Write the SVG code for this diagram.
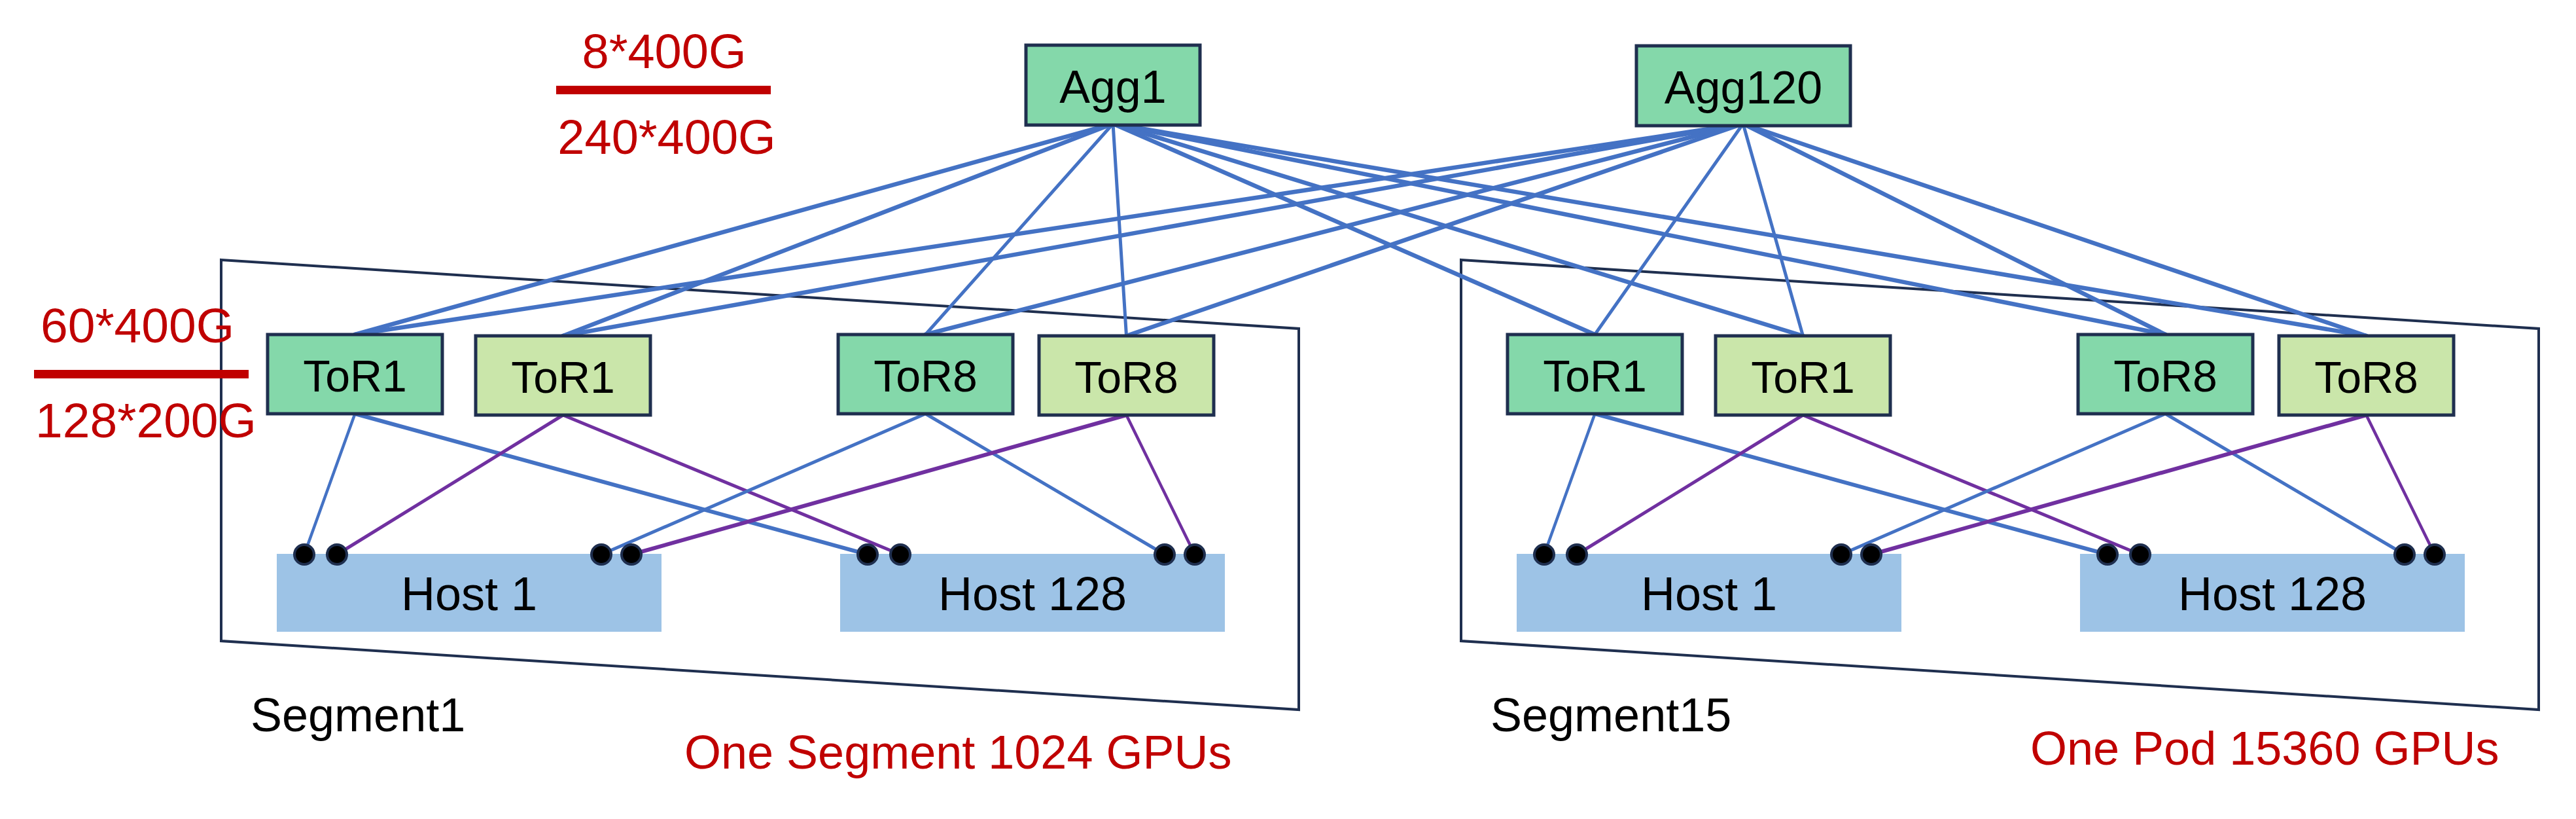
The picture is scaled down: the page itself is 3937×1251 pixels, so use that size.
<svg xmlns="http://www.w3.org/2000/svg" width="3937" height="1251" viewBox="0 0 3937 1251">
<style>
.seg{fill:none;stroke:#1f2f4f;stroke-width:4;stroke-linejoin:miter}
.agg,.tord{fill:#84d8aa;stroke:#1f2f4f;stroke-width:5}
.torl{fill:#cae6aa;stroke:#1f2f4f;stroke-width:5}
.host{fill:#9dc3e6}
.dot{fill:#000;stroke:#1f2f4f;stroke-width:4}
.b{stroke:#4472c4;fill:none;stroke-linecap:round}
.p{stroke:#7030a0;fill:none;stroke-linecap:round}
.t{font-family:"Liberation Sans",Arial,sans-serif;fill:#000;text-anchor:middle}
.ts{font-family:"Liberation Sans",Arial,sans-serif;fill:#000}
.r{font-family:"Liberation Sans",Arial,sans-serif;fill:#c00000}
.rm{font-family:"Liberation Sans",Arial,sans-serif;fill:#c00000;text-anchor:middle}
.red{fill:#c00000}
</style>
<g id="segment1-frame"><polygon class="seg" points="338,397 1985,502 1985,1084 338,979"/></g>
<g id="segment15-frame"><polygon class="seg" points="2233,397 3880,502 3880,1084 2233,979"/></g>

<g id="connectors">
<g class="b" stroke-width="6.5">
<line x1="1701" y1="189" x2="542.5" y2="511"/>
<line x1="1701" y1="189" x2="860.5" y2="513"/>
<line x1="1701" y1="189" x2="1414.5" y2="511" stroke-width="5"/>
<line x1="1701" y1="189" x2="1721.5" y2="513" stroke-width="5"/>
<line x1="1701" y1="189" x2="2437.5" y2="511"/>
<line x1="1701" y1="189" x2="2755.5" y2="513"/>
<line x1="1701" y1="189" x2="3309.5" y2="511"/>
<line x1="1701" y1="189" x2="3616.5" y2="513"/>
<line x1="2664" y1="189" x2="542.5" y2="511"/>
<line x1="2664" y1="189" x2="860.5" y2="513"/>
<line x1="2664" y1="189" x2="1414.5" y2="511"/>
<line x1="2664" y1="189" x2="1721.5" y2="513"/>
<line x1="2664" y1="189" x2="2437.5" y2="511" stroke-width="5"/>
<line x1="2664" y1="189" x2="2755.5" y2="513" stroke-width="5"/>
<line x1="2664" y1="189" x2="3309.5" y2="511"/>
<line x1="2664" y1="189" x2="3616.5" y2="513"/>
</g>
<line class="b" stroke-width="4.5" x1="542.5" y1="632" x2="465" y2="847"/>
<line class="b" stroke-width="6" x1="542.5" y1="632" x2="1326" y2="847"/>
<line class="p" stroke-width="5" x1="860.5" y1="634" x2="515" y2="847"/>
<line class="p" stroke-width="5" x1="860.5" y1="634" x2="1376" y2="847"/>
<line class="b" stroke-width="5" x1="1414.5" y1="632" x2="919" y2="847"/>
<line class="b" stroke-width="5" x1="1414.5" y1="632" x2="1780" y2="847"/>
<line class="p" stroke-width="6" x1="1721.5" y1="634" x2="965" y2="847"/>
<line class="p" stroke-width="4.5" x1="1721.5" y1="634" x2="1826" y2="847"/>
<line class="b" stroke-width="4.5" x1="2437.5" y1="632" x2="2360" y2="847"/>
<line class="b" stroke-width="6" x1="2437.5" y1="632" x2="3221" y2="847"/>
<line class="p" stroke-width="5" x1="2755.5" y1="634" x2="2410" y2="847"/>
<line class="p" stroke-width="5" x1="2755.5" y1="634" x2="3271" y2="847"/>
<line class="b" stroke-width="5" x1="3309.5" y1="632" x2="2814" y2="847"/>
<line class="b" stroke-width="5" x1="3309.5" y1="632" x2="3675" y2="847"/>
<line class="p" stroke-width="6" x1="3616.5" y1="634" x2="2860" y2="847"/>
<line class="p" stroke-width="4.5" x1="3616.5" y1="634" x2="3721" y2="847"/>
</g>

<g id="agg1"><rect class="agg" x="1568" y="69" width="266" height="122"/><text class="t" x="1701" y="157" font-size="70">Agg1</text></g>
<g id="agg120"><rect class="agg" x="2501" y="70" width="327" height="122"/><text class="t" x="2664.5" y="158" font-size="70">Agg120</text></g>

<g id="s1-tor1a"><rect class="tord" x="409" y="511" width="267" height="121"/><text class="t" x="542.5" y="598" font-size="68">ToR1</text></g>
<g id="s1-tor1b"><rect class="torl" x="727" y="513" width="267" height="121"/><text class="t" x="860.5" y="600" font-size="68">ToR1</text></g>
<g id="s1-tor8a"><rect class="tord" x="1281" y="511" width="267" height="121"/><text class="t" x="1414.5" y="598" font-size="68">ToR8</text></g>
<g id="s1-tor8b"><rect class="torl" x="1588" y="513" width="267" height="121"/><text class="t" x="1721.5" y="600" font-size="68">ToR8</text></g>
<g id="s15-tor1a"><rect class="tord" x="2304" y="511" width="267" height="121"/><text class="t" x="2437.5" y="598" font-size="68">ToR1</text></g>
<g id="s15-tor1b"><rect class="torl" x="2622" y="513" width="267" height="121"/><text class="t" x="2755.5" y="600" font-size="68">ToR1</text></g>
<g id="s15-tor8a"><rect class="tord" x="3176" y="511" width="267" height="121"/><text class="t" x="3309.5" y="598" font-size="68">ToR8</text></g>
<g id="s15-tor8b"><rect class="torl" x="3483" y="513" width="267" height="121"/><text class="t" x="3616.5" y="600" font-size="68">ToR8</text></g>

<g id="s1-host1"><rect class="host" x="423" y="846" width="588" height="119"/><text class="t" x="717" y="932" font-size="72">Host 1</text>
<circle class="dot" cx="465" cy="847" r="15"/><circle class="dot" cx="515" cy="847" r="15"/><circle class="dot" cx="919" cy="847" r="15"/><circle class="dot" cx="965" cy="847" r="15"/></g>
<g id="s1-host128"><rect class="host" x="1284" y="846" width="588" height="119"/><text class="t" x="1578" y="932" font-size="72">Host 128</text>
<circle class="dot" cx="1326" cy="847" r="15"/><circle class="dot" cx="1376" cy="847" r="15"/><circle class="dot" cx="1780" cy="847" r="15"/><circle class="dot" cx="1826" cy="847" r="15"/></g>
<g id="s15-host1"><rect class="host" x="2318" y="846" width="588" height="119"/><text class="t" x="2612" y="932" font-size="72">Host 1</text>
<circle class="dot" cx="2360" cy="847" r="15"/><circle class="dot" cx="2410" cy="847" r="15"/><circle class="dot" cx="2814" cy="847" r="15"/><circle class="dot" cx="2860" cy="847" r="15"/></g>
<g id="s15-host128"><rect class="host" x="3179" y="846" width="588" height="119"/><text class="t" x="3473" y="932" font-size="72">Host 128</text>
<circle class="dot" cx="3221" cy="847" r="15"/><circle class="dot" cx="3271" cy="847" r="15"/><circle class="dot" cx="3675" cy="847" r="15"/><circle class="dot" cx="3721" cy="847" r="15"/></g>

<g id="labels">
<text class="rm" x="1015" y="104" font-size="74">8*400G</text>
<rect class="red" x="850" y="131" width="328" height="13"/>
<text class="rm" x="1019" y="235" font-size="74">240*400G</text>
<text class="rm" x="210" y="523" font-size="75">60*400G</text>
<rect class="red" x="52" y="565" width="328" height="13"/>
<text class="rm" x="223" y="668" font-size="75">128*200G</text>
<text class="ts" x="383" y="1117" font-size="72">Segment1</text>
<text class="ts" x="2278" y="1117" font-size="72">Segment15</text>
<text class="r" x="1046" y="1174" font-size="72">One Segment 1024 GPUs</text>
<text class="r" x="3103" y="1168" font-size="72">One Pod 15360 GPUs</text>
</g>
</svg>
